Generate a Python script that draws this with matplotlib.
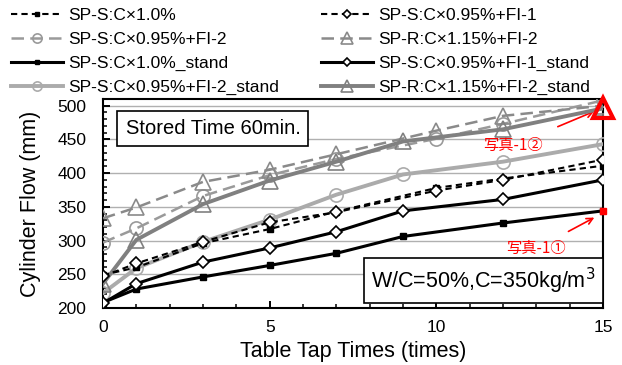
import numpy as np
import matplotlib
matplotlib.use("Agg")
import matplotlib.pyplot as plt
from matplotlib.ticker import MultipleLocator

plt.rcParams['font.family'] = ['Liberation Sans', 'Noto Sans CJK JP', 'DejaVu Sans']

# tap counts
x_dash = [0, 1, 3, 5, 7, 10, 12, 15]
x_stand = [0, 1, 3, 5, 7, 9, 12, 15]

# cylinder flow (mm)
sq_dash = [249, 260, 296, 317, 343, 378, 392, 411]
di_dash = [247, 266, 298, 327, 342, 374, 390, 420]
ci_dash = [297, 318, 366, 397, 421, 451, 473, 508]
tr_dash = [333, 349, 387, 405, 428, 463, 485, 500]
sq_stand = [208, 228, 246, 263, 281, 306, 326, 344]
di_stand = [207, 236, 268, 289, 313, 344, 361, 390]
ci_stand = [222, 259, 298, 331, 368, 398, 417, 443]
tr_stand = [236, 301, 354, 389, 417, 447, 465, 496]

labels = ["SP-S:C×1.0%", "SP-S:C×0.95%+FI-1",
          "SP-S:C×0.95%+FI-2", "SP-R:C×1.15%+FI-2",
          "SP-S:C×1.0%_stand", "SP-S:C×0.95%+FI-1_stand",
          "SP-S:C×0.95%+FI-2_stand", "SP-R:C×1.15%+FI-2_stand"]

fig = plt.figure(figsize=(6.22, 3.65), dpi=100)
ax = fig.add_axes([0.1656, 0.1564, 0.8039, 0.5724])

h = []
h += ax.plot(x_dash, sq_dash, color='k', ls=(0, (3, 2)), lw=1.5, marker='s', ms=4,
             mfc='k', mec='k', label=labels[0], zorder=5)
h += ax.plot(x_dash, di_dash, color='k', ls=(0, (3, 2)), lw=1.5, marker='D', ms=6.5,
             mfc='white', mec='k', mew=1.2, label=labels[1], zorder=5)
h += ax.plot(x_dash, ci_dash, color='#9a9a9a', ls=(0, (5, 2.5)), lw=1.8, marker='o', ms=9.5,
             mfc='none', mec='#9a9a9a', mew=1.2, label=labels[2], zorder=4)
h += ax.plot(x_dash, tr_dash, color='#8a8a8a', ls=(0, (5, 2.5)), lw=1.8, marker='^', ms=12,
             mfc='none', mec='#8a8a8a', mew=1.2, label=labels[3], zorder=4)
h += ax.plot(x_stand, sq_stand, color='k', lw=2.2, marker='s', ms=4,
             mfc='k', mec='k', label=labels[4], zorder=5)
h += ax.plot(x_stand, di_stand, color='k', lw=2.2, marker='D', ms=6.5,
             mfc='white', mec='k', mew=1.2, label=labels[5], zorder=5)
h += ax.plot(x_stand, ci_stand, color='#ababab', lw=2.8, marker='o', ms=9.5,
             mfc='none', mec='#ababab', mew=1.2, label=labels[6], zorder=4)
h += ax.plot(x_stand, tr_stand, color='#808080', lw=2.8, marker='^', ms=12,
             mfc='none', mec='#808080', mew=1.2, label=labels[7], zorder=4)

# highlighted end points
ax.plot(x_stand[-1], sq_stand[-1], 's', ms=5, color='red', zorder=6, clip_on=False)
ax.plot(x_stand[-1], tr_stand[-1], '^', ms=14, mfc='none', mec='red', mew=3,
        zorder=6, clip_on=False)

ax.set_xlim(0, 15)
ax.set_ylim(200, 510)
ax.xaxis.set_major_locator(MultipleLocator(5))
ax.xaxis.set_minor_locator(MultipleLocator(1))
ax.yaxis.set_minor_locator(MultipleLocator(10))
ax.set_yticks([200, 250, 300, 350, 400, 450, 500])
ax.tick_params(which='both', direction='in', top=False, right=False, labelsize=12.5)
ax.tick_params(axis='x', which='major', pad=9)
ax.tick_params(axis='y', which='major', pad=12)
ax.tick_params(which='major', length=5, width=1.4)
ax.tick_params(which='minor', length=3, width=1.1)
for s in ax.spines.values():
    s.set_linewidth(1.5)
ax.grid(axis='y', color='#b0b0b0', lw=1)
ax.set_axisbelow(True)

ax.set_xlabel("Table Tap Times (times)", fontsize=15.5, labelpad=4)
ax.set_ylabel("Cylinder Flow (mm)", fontsize=15.5, labelpad=12)

ax.text(0.045, 0.86, "Stored Time 60min.", transform=ax.transAxes, fontsize=14.5,
        va='center', ha='left', zorder=7,
        bbox=dict(boxstyle='square,pad=0.4', fc='white', ec='k', lw=1.2))
ax.text(0.985, 0.13, "W/C=50%,C=350kg/m$^3$", transform=ax.transAxes, fontsize=15.5,
        va='center', ha='right', zorder=7,
        bbox=dict(boxstyle='square,pad=0.35', fc='white', ec='k', lw=1.2))

# photo callouts
ax.annotate("写真-1②", xy=(14.85, 494), xytext=(12.3, 441), color='red',
            fontsize=11, ha='center', va='center',
            family=['Noto Sans CJK JP', 'DejaVu Sans'],
            arrowprops=dict(arrowstyle='->', color='red', lw=1.2, shrinkA=14, shrinkB=3))
ax.annotate("写真-1①", xy=(14.85, 337), xytext=(13.0, 288), color='red',
            fontsize=11, ha='center', va='center',
            family=['Noto Sans CJK JP', 'DejaVu Sans'],
            arrowprops=dict(arrowstyle='->', color='red', lw=1.2, shrinkA=9, shrinkB=3))

fig.legend(handles=h[0:8:2] + h[1:8:2],
           labels=labels[0:8:2] + labels[1:8:2],
           ncol=2, loc='upper left', bbox_to_anchor=(0.012, 0.987),
           frameon=False, fontsize=12.5, handlelength=3.0, handletextpad=0.3,
           labelspacing=0.5, columnspacing=2.4, borderaxespad=0.1, borderpad=0.1,
           markerscale=0.7)

fig.savefig("out.png", dpi=100)
